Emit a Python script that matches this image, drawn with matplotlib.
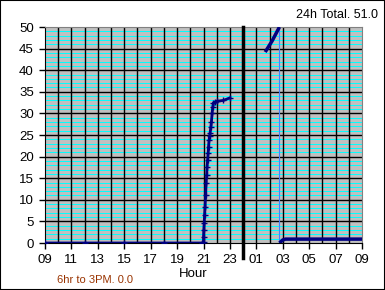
import numpy as np
import matplotlib
matplotlib.use("Agg")
import matplotlib.pyplot as plt
from matplotlib.patches import Rectangle

# hours counted from 09:00 (9) through to 09:00 next day (33)
day_hours = [9, 12, 15, 18, 20.9, 21.0, 21.0, 21.02, 21.05, 21.08, 21.12, 21.16, 21.2,
             21.24, 21.27, 21.31, 21.35, 21.38, 21.42, 21.46, 21.5, 21.55, 21.6, 21.65,
             21.7, 21.75, 21.85, 22.0, 22.5, 23.0]
day_rain = [0, 0, 0, 0, 0, 0.3, 1.4, 3.0, 4.6, 6.4, 8.3, 11.0, 13.9,
            15.8, 17.6, 19.2, 20.8, 22.3, 23.8, 24.7, 25.5, 26.8, 28.0, 30.0,
            31.5, 32.4, 32.6, 32.8, 33.0, 33.6]
night_hours = [25.67, 26.2, 26.75]
night_rain = [44.2, 46.8, 50.0]
wrap_hours = [26.75, 27.0, 27.2, 30, 33]
wrap_rain = [0, 0.7, 0.9, 0.9, 0.9]

xticks = list(range(9, 34, 2))
xlabels = ["%02d" % (h % 24) for h in xticks]
yticks = list(range(0, 51, 5))
now_hour = 26.73
total_text = "24h Total. 51.0"
sixhr_text = "6hr to 3PM. 0.0"

plt.rcParams['font.family'] = ['Liberation Sans', 'DejaVu Sans']
fig = plt.figure(figsize=(3.85, 2.9), dpi=100)
fig.patch.set_facecolor("white")
fig.patches.append(Rectangle((0, 0), 1, 1, transform=fig.transFigure, fill=False,
                             edgecolor="black", lw=1.5))

ax = fig.add_axes((45/385, 47/290, 317/385, 216/290))
ax.set_facecolor("#c0c0c0")
ax.set_xlim(9, 33)
ax.set_ylim(0, 50)

for v in range(1, 50):
    if v % 5:
        ax.axhline(v, color="#00ffff", lw=0.7, zorder=1)
for v in range(5, 50, 5):
    ax.axhline(v, color="black", lw=1, zorder=1.5)
for h in range(10, 33):
    ax.axvline(h, color="black", lw=1, zorder=1.5)

ax.axvline(now_hour, color="#4080ff", lw=0.8, zorder=2)
ax.axvline(24, ymin=-0.07, ymax=1.0, color="black", lw=2.5, zorder=3, clip_on=False)

ax.plot(day_hours, day_rain, color="#000080", lw=2, marker="+", ms=4, mew=1, zorder=4)
for xs, ys in [(night_hours, night_rain), (wrap_hours, wrap_rain)]:
    ax.plot(xs, ys, color="#000080", lw=2.5, zorder=4, solid_capstyle="butt")

ax.set_xticks(xticks)
ax.set_xticklabels(xlabels)
ax.set_yticks(yticks)
ax.tick_params(direction="out", length=4, width=1, labelsize=9.5, colors="black", pad=4)
for s in ["top", "right"]:
    ax.spines[s].set_color("#808080")
ax.spines["left"].set_color("black")
ax.spines["bottom"].set_color("black")

fig.text(193/385, 1 - 274/290, "Hour", ha="center", va="center", fontsize=9.5)
fig.text(378/385, 1 - 15/290, total_text, ha="right", va="center", fontsize=9)
fig.text(57/385, 1 - 280/290, sixhr_text, ha="left", va="center", fontsize=8,
         color="#993300")

fig.savefig("out.png", dpi=100)
